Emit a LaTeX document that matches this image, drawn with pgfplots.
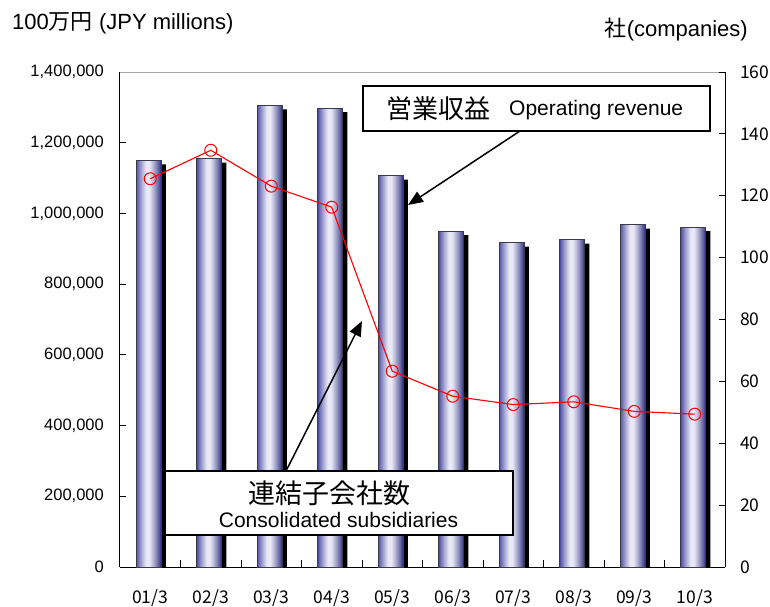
\documentclass[border=0pt]{standalone}
\usepackage{pgfplots}
\pgfplotsset{compat=1.18}
\usepackage{fontspec}
\setmainfont{Liberation Sans}
\newfontfamily\cjk{Noto Sans CJK JP}
\usetikzlibrary{arrows.meta}
\definecolor{barleft}{HTML}{3A3A98}
\definecolor{barlight}{HTML}{E8E8F6}
\definecolor{barright}{HTML}{2E2E80}
\definecolor{barline}{HTML}{3A3A4A}
% 25 vertical strips make the cylinder shading of each bar
\foreach \i in {0,...,24}{%
  \pgfmathsetmacro\t{(\i+0.5)/25}%
  \pgfmathsetmacro\m{\t<0.42 ? 100*(\t/0.42)^0.8 : (\t<0.55 ? 100 : 100*((1-\t)/0.45)^0.8)}%
  \pgfmathtruncatemacro\side{\t<0.48 ? 0 : 1}%
  \ifnum\side=0 \xglobal\colorlet{strip\i}{barlight!\m!barleft}%
  \else \xglobal\colorlet{strip\i}{barlight!\m!barright}\fi
}

% operating revenue, JPY millions
\pgfplotstableread{
x  rev
0  1150000
1  1154800
2  1305400
3  1297800
4  1106800
5  950300
6  917500
7  926000
8  968300
9  961600
}\revtable

% consolidated subsidiaries
\pgfplotstableread{
x  subs
0  125.5
1  134.7
2  123.1
3  116.3
4  63.3
5  55.2
6  52.5
7  53.4
8  50.3
9  49.4
}\substable

\begin{document}
\begin{tikzpicture}[x=1pt,y=1pt]
\useasboundingbox (-120,-39) rectangle (650,567);
\pgfplotsset{
  base/.style={
    at={(0,0)}, anchor=south west,
    width=605pt, height=495pt, scale only axis,
    xmin=-0.5, xmax=9.5, ymin=0,
    tick align=inside, major tick length=6pt,
    tick style={black, line width=0.8pt},
    axis line style={-, black, line width=1pt},
    /pgf/number format/assume math mode=true,
    scaled y ticks=false,
  },
}
\begin{axis}[base,
  ymax=1400000,
  axis x line*=bottom, axis y line*=left,
  xtick={0,...,9},
  xticklabels={01/3,02/3,03/3,04/3,05/3,06/3,07/3,08/3,09/3,10/3},
  major x tick style={draw=none},
  minor x tick num=1, minor tick length=7pt,
  xticklabel style={font=\cjk\fontsize{17.5}{17.5}\selectfont, anchor=base, inner sep=0pt, yshift=-36pt},
  ytick={0,200000,...,1400000},
  yticklabel style={font=\fontsize{16.5}{16.5}\selectfont, anchor=east, inner sep=0pt, xshift=-16pt,
    /pgf/number format/.cd, fixed, 1000 sep={,}},
]
% shadow
\addplot[ybar, bar width=25pt, bar shift=3pt, fill=black, draw=none, yshift=-4pt]
  table[x=x, y=rev] {\revtable};
% shaded bar, strip by strip
\pgfplotsinvokeforeach{0,...,24}{
  \addplot[ybar, bar width=1.3pt, bar shift={#1pt-13.5pt}, fill=strip#1, draw=none]
    table[x=x, y=rev] {\revtable};
}
\addplot[ybar, bar width=25pt, bar shift=-1.5pt, fill=none, draw=barline, line width=0.6pt]
  table[x=x, y=rev] {\revtable};
\draw[gray!70, line width=0.8pt] (rel axis cs:0,1) -- (rel axis cs:1,1);
\end{axis}
\begin{axis}[base,
  ymax=160,
  axis y line*=right, axis x line=none,
  ytick={0,20,...,160},
  yticklabel style={font=\cjk\fontsize{17.5}{17.5}\selectfont, anchor=west, inner sep=0pt, xshift=15pt},
]
\addplot[red, line width=1.1pt, mark=o, mark size=6pt, mark options={line width=1pt, fill=none}]
  table[x=x, y=subs] {\substable};
\end{axis}

% titles
\node[anchor=west, inner sep=0pt] at (-108,544) {\fontsize{22}{22}\selectfont 100{\cjk 万円} (JPY millions)};
\node[anchor=east, inner sep=0pt] at (628,537) {\fontsize{22}{22}\selectfont{\cjk 社}(companies)};

% annotations
\draw[line width=1.5pt, -{Triangle[length=15pt,width=12pt]}] (400,436) -- (288,362);
\draw[line width=1.5pt, -{Triangle[length=15pt,width=12pt]}] (166,96) -- (242,246);
\draw[line width=1.5pt, fill=white] (243,481) rectangle (590,436);
\node[inner sep=0pt] at (318,458) {\cjk\fontsize{26}{26}\selectfont 営業収益};
\node[anchor=base west, inner sep=0pt] at (389,451) {\fontsize{21}{21}\selectfont Operating revenue};
\draw[line width=1.5pt, fill=white] (45,96) rectangle (393,32);
\node[inner sep=0pt] at (209,74) {\cjk\fontsize{27}{27}\selectfont 連結子会社数};
\node[inner sep=0pt] at (218.5,47) {\fontsize{21}{21}\selectfont Consolidated subsidiaries};
\end{tikzpicture}
\end{document}
